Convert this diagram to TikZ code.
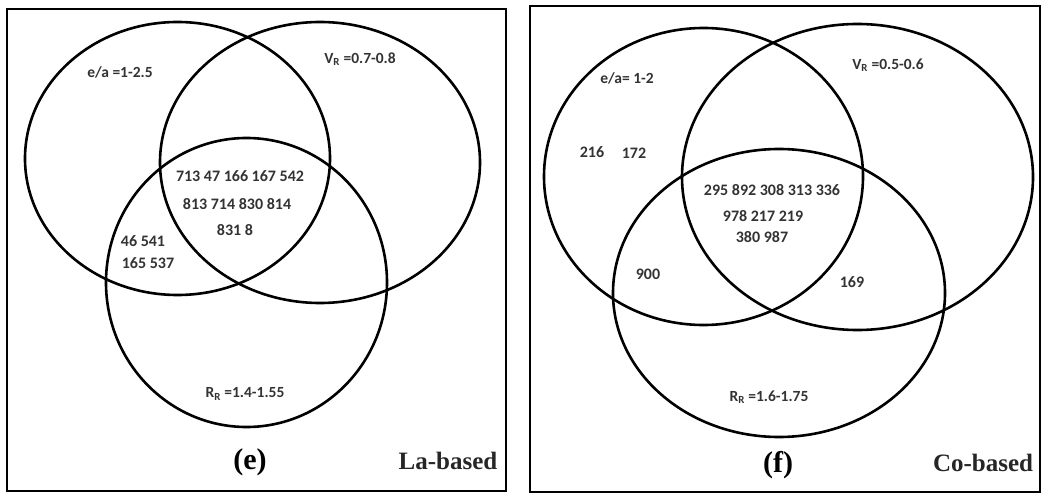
\documentclass[tikz,border=0pt]{standalone}
\usepackage{fontspec}
\setmainfont{Liberation Serif}
\newfontfamily\lblfont{Carlito}
\begin{document}
\begin{tikzpicture}[x=1pt,y=-1pt,
  frame/.style={line width=2.8pt, draw=black},
  venn/.style={line width=2.6pt, draw=black},
  lbl/.style={font=\lblfont\bfseries\fontsize{15.5}{17}\selectfont, text=black!80, inner sep=0pt},
  num/.style={lbl, font=\lblfont\bfseries\fontsize{16}{18}\selectfont},
  tag/.style={font=\bfseries\fontsize{30}{32}\selectfont, inner sep=0pt},
  kind/.style={font=\bfseries\fontsize{25}{28}\selectfont, text=black!85, inner sep=0pt}]
\useasboundingbox (0,0) rectangle (1044,497);
% ---------- panel (e) ----------
\draw[frame] (7,9) rectangle (506,491);
\draw[venn] (177.5,158.5) ellipse [x radius=152.5pt, y radius=136.5pt];
\draw[venn] (320,162.5) ellipse [x radius=160pt, y radius=140.5pt];
\draw[venn] (246.5,282.5) ellipse [x radius=140.5pt, y radius=144.5pt];
\node[lbl] (ea1) at (120,72) {e/a =1-2.5};
\node[lbl] (vr1) at (360,59) {V\textsubscript{R} =0.7-0.8};
\node[num] (c1a) at (240,176) {713 47 166 167 542};
\node[num] (c1b) at (237,204) {813 714 830 814};
\node[num] (c1c) at (235,230) {831 8};
\node[num] (l1a) at (143,241) {46 541};
\node[num] (l1b) at (148,263) {165 537};
\node[lbl] (rr1) at (245,394) {R\textsubscript{R} =1.4-1.55};
\node[tag] (te) at (250,462) {(e)};
\node[kind] (ke) at (448,461) {La-based};
% ---------- panel (f) ----------
\draw[frame] (530,6) rectangle (1040,492);
\draw[venn] (703.5,176.5) ellipse [x radius=159.5pt, y radius=148.5pt];
\draw[venn] (857.5,177) ellipse [x radius=175.5pt, y radius=153pt];
\draw[venn] (779,293) ellipse [x radius=166pt, y radius=144pt];
\node[lbl] (ea2) at (627,78) {e/a= 1-2};
\node[lbl] (vr2) at (888,65) {V\textsubscript{R} =0.5-0.6};
\node[num] (o2a) at (592,152) {216};
\node[num] (o2b) at (634,153) {172};
\node[num] (c2a) at (772,190) {295 892 308 313 336};
\node[num] (c2b) at (763,216) {978 217 219};
\node[num] (c2c) at (762,237) {380 987};
\node[num] (l2a) at (648,274) {900};
\node[num] (r2a) at (852,282) {169};
\node[lbl] (rr2) at (769,397) {R\textsubscript{R} =1.6-1.75};
\node[tag] (tf) at (778,465) {(f)};
\node[kind] (kf) at (983,463) {Co-based};
\end{tikzpicture}
\end{document}
